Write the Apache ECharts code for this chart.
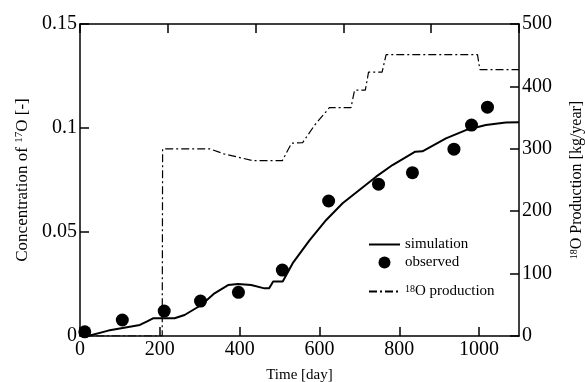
<!DOCTYPE html>
<html>
<head>
<meta charset="utf-8">
<script src="https://cdn.jsdelivr.net/npm/echarts@6/dist/echarts.min.js"></script>
<style>
  html, body { margin: 0; padding: 0; background: #fff; }
  #chart { width: 585px; height: 382px; }
</style>
</head>
<body>
<div id="chart"></div>
<script>
// simulation (left axis, concentration of 17O)
var simDays = [10, 20, 71, 150, 167, 183, 237, 262, 304, 337, 371, 396, 429, 462, 474, 484, 508, 533, 575, 617, 658, 700, 742, 783, 840, 858, 917, 967, 1017, 1067, 1100];
var simConc = [0, 0, 0.0026, 0.0053, 0.0069, 0.0085, 0.0085, 0.0101, 0.0149, 0.0205, 0.0245, 0.025, 0.0245, 0.0229, 0.0229, 0.0262, 0.0262, 0.035, 0.046, 0.0558, 0.0638, 0.0702, 0.0766, 0.0822, 0.0886, 0.0888, 0.095, 0.099, 0.1014, 0.1026, 0.1028];

// observed points
var obsDays = [12, 106, 211, 302, 397, 507, 623, 748, 833, 937, 981, 1021];
var obsConc = [0.002, 0.0077, 0.012, 0.0168, 0.021, 0.0317, 0.0649, 0.073, 0.0785, 0.0898, 0.1014, 0.110];

// 18O production (right axis, kg/year)
var prodDays = [0, 206, 207, 325, 360, 433, 507, 530, 558, 588, 625, 679, 688, 715, 723, 757, 767, 996, 1002, 1100];
var prodRate = [0, 0, 300, 300, 292, 281, 281, 309, 310, 338, 366, 366, 394, 394, 423, 423, 451, 451, 427, 427];

var xTicks = { min: 0, max: 1100, interval: 200 };
var leftTicks = { min: 0, max: 0.15, interval: 0.05 };
var rightTicks = { min: 0, max: 500, interval: 100 };

function pairs(xs, ys) {
  return xs.map(function (x, i) { return [x, ys[i]]; });
}

var font = "Liberation Serif";
function axisLine() {
  return { onZero: false, lineStyle: { color: "#000", width: 1.5 } };
}
function tickIn() {
  return { inside: true, length: 9, lineStyle: { color: "#000", width: 1.5 } };
}
function supRich(size) {
  return {
    n: { fontFamily: font, fontSize: size, color: "#000" },
    sup: { fontFamily: font, fontSize: Math.round(size * 0.65), color: "#000", verticalAlign: "top" }
  };
}

var myChart = echarts.init(document.getElementById("chart"));
myChart.setOption({
  animation: false,
  backgroundColor: "#fff",
  grid: { left: 80, right: 66, top: 24, bottom: 46, containLabel: false, outerBoundsMode: "none" },
  legend: [
    {
      data: ["simulation", "observed"],
      orient: "vertical",
      left: 363,
      top: 232,
      itemWidth: 31,
      itemHeight: 12,
      itemGap: 3,
      textStyle: { fontFamily: font, fontSize: 15, color: "#000" }
    },
    {
      data: ["18O production"],
      orient: "vertical",
      left: 363,
      top: 279,
      itemWidth: 31,
      itemHeight: 12,
      formatter: function () { return "{sup|18}{n|O production}"; },
      textStyle: { fontFamily: font, fontSize: 15, color: "#000", rich: supRich(15) }
    }
  ],
  xAxis: [
    {
      type: "value",
      min: xTicks.min,
      max: xTicks.max,
      interval: xTicks.interval,
      name: "Time [day]",
      nameLocation: "middle",
      nameGap: 32,
      nameTextStyle: { fontFamily: font, fontSize: 15, color: "#000" },
      axisLine: axisLine(),
      axisTick: tickIn(),
      splitLine: { show: false },
      axisLabel: {
        fontFamily: font, fontSize: 20, color: "#000", margin: 4, showMaxLabel: false,
        formatter: function (v) { return String(v); }
      }
    },
    {
      // top frame with ticks only
      type: "value",
      position: "top",
      min: 0,
      max: 1000,
      interval: 200,
      axisLine: axisLine(),
      axisTick: tickIn(),
      axisLabel: { show: false },
      splitLine: { show: false }
    }
  ],
  yAxis: [
    {
      type: "value",
      min: leftTicks.min,
      max: leftTicks.max,
      interval: leftTicks.interval,
      name: "{n|Concentration of }{sup|17}{n|O [-]}",
      nameLocation: "middle",
      nameRotate: 90,
      nameGap: 49,
      nameTextStyle: { fontFamily: font, fontSize: 17, color: "#000", rich: supRich(17) },
      axisLine: axisLine(),
      axisTick: tickIn(),
      splitLine: { show: false },
      axisLabel: { fontFamily: font, fontSize: 20, color: "#000", margin: 3 }
    },
    {
      type: "value",
      position: "right",
      min: rightTicks.min,
      max: rightTicks.max,
      interval: rightTicks.interval,
      name: "{sup|18}{n|O Production [kg/year]}",
      nameLocation: "middle",
      nameRotate: 90,
      nameGap: 50,
      nameTextStyle: { fontFamily: font, fontSize: 16, color: "#000", rich: supRich(16) },
      axisLine: axisLine(),
      axisTick: tickIn(),
      splitLine: { show: false },
      axisLabel: { fontFamily: font, fontSize: 20, color: "#000", margin: 3 }
    }
  ],
  series: [
    {
      name: "18O production",
      type: "line",
      yAxisIndex: 1,
      symbol: "none",
      data: pairs(prodDays, prodRate),
      lineStyle: { color: "#000", width: 1.2, type: [8, 3, 2, 3] },
      // transparent so the legend shows only the line sample
      itemStyle: { color: "rgba(0,0,0,0)" }
    },
    {
      name: "simulation",
      type: "line",
      yAxisIndex: 0,
      symbol: "none",
      data: pairs(simDays, simConc),
      lineStyle: { color: "#000", width: 2 },
      itemStyle: { color: "rgba(0,0,0,0)" }
    },
    {
      name: "observed",
      type: "scatter",
      yAxisIndex: 0,
      symbol: "circle",
      symbolSize: 13,
      data: pairs(obsDays, obsConc),
      itemStyle: { color: "#000", opacity: 1 }
    }
  ]
});
</script>
</body>
</html>
